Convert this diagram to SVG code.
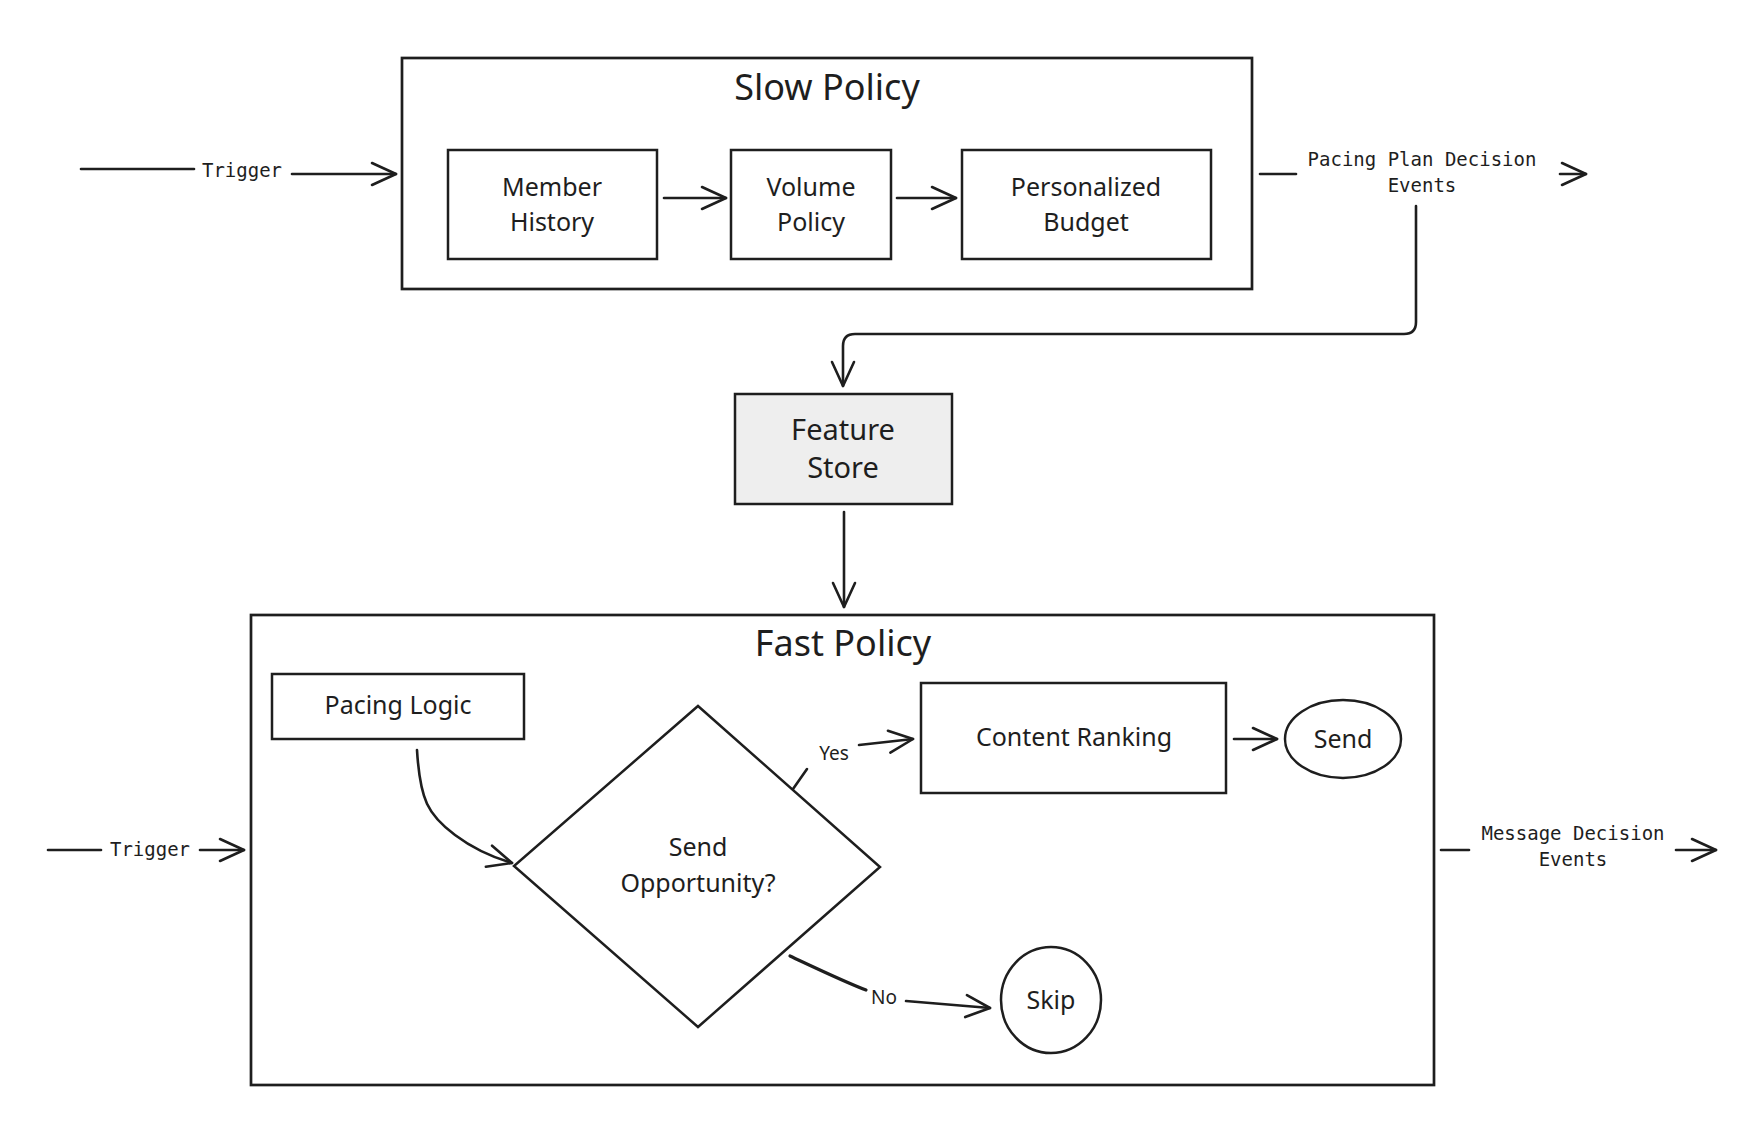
<svg xmlns="http://www.w3.org/2000/svg" width="1764" height="1148" viewBox="0 0 1764 1148">
<style>
.box{fill:#ffffff;stroke:#1e1e1e;stroke-width:2.5}
.grey{fill:#eeeeee;stroke:#1e1e1e;stroke-width:2.5}
.frame{fill:none;stroke:#1e1e1e;stroke-width:2.7}
.c{fill:none;stroke:#1e1e1e;stroke-width:2.6;stroke-linecap:round;stroke-linejoin:round}
.hand{font-family:"Noto Sans","Open Sans",sans-serif;fill:#1e1e1e;text-anchor:middle}
.t{font-size:25px}
.title{font-size:36px}
.mono{font-family:"DejaVu Sans Mono","Liberation Mono",monospace;font-size:19px;fill:#1e1e1e;text-anchor:middle}
.lbl{font-family:"Noto Sans",sans-serif;font-size:19px;fill:#1e1e1e;text-anchor:middle}
</style>
<defs>
<marker id="ah" viewBox="0 0 28 28" refX="26" refY="14" markerWidth="28" markerHeight="28" markerUnits="userSpaceOnUse" orient="auto">
<path d="M2,3 L26,14 L2,25" fill="none" stroke="#1e1e1e" stroke-width="2.6" stroke-linecap="round" stroke-linejoin="round"/>
</marker>
</defs>
<rect width="1764" height="1148" fill="#ffffff"/>

<g id="slow-policy">
<rect class="frame" x="402" y="58" width="850" height="231"/>
<text class="hand title" x="827" y="100">Slow Policy</text>
</g>
<g id="member-history">
<rect class="box" x="448" y="150" width="209" height="109"/>
<text class="hand t" x="552" y="196">Member</text>
<text class="hand t" x="552" y="231">History</text>
</g>
<g id="volume-policy">
<rect class="box" x="731" y="150" width="160" height="109"/>
<text class="hand t" x="811" y="196">Volume</text>
<text class="hand t" x="811" y="231">Policy</text>
</g>
<g id="personalized-budget">
<rect class="box" x="962" y="150" width="249" height="109"/>
<text class="hand t" x="1086" y="196">Personalized</text>
<text class="hand t" x="1086" y="231">Budget</text>
</g>
<g id="feature-store">
<rect class="grey" x="735" y="394" width="217" height="110"/>
<text class="hand" style="font-size:29px" x="843" y="440">Feature</text>
<text class="hand" style="font-size:29px" x="843" y="478">Store</text>
</g>
<g id="fast-policy">
<rect class="frame" x="251" y="615" width="1183" height="470"/>
<text class="hand title" x="843" y="656">Fast Policy</text>
</g>
<g id="pacing-logic">
<rect class="box" x="272" y="674" width="252" height="65"/>
<text class="hand t" x="398" y="714">Pacing Logic</text>
</g>
<g id="send-opportunity">
<polygon class="box" points="698,706 880,867 698,1027 514,866"/>
<text class="hand t" x="698" y="856">Send</text>
<text class="hand t" x="698" y="892">Opportunity?</text>
</g>
<g id="content-ranking">
<rect class="box" x="921" y="683" width="305" height="110"/>
<text class="hand t" x="1074" y="746">Content Ranking</text>
</g>
<g id="send">
<ellipse class="box" cx="1343" cy="739" rx="58" ry="39"/>
<text class="hand t" x="1343" y="748">Send</text>
</g>
<g id="skip">
<ellipse class="box" cx="1051" cy="1000" rx="50" ry="53"/>
<text class="hand t" x="1051" y="1009">Skip</text>
</g>

<g id="connectors">
<line class="c" x1="81" y1="169" x2="194" y2="169"/>
<text class="mono" x="242" y="177">Trigger</text>
<line class="c" x1="292" y1="174" x2="396" y2="174" marker-end="url(#ah)"/>
<line class="c" x1="664" y1="198" x2="726" y2="198" marker-end="url(#ah)"/>
<line class="c" x1="897" y1="198" x2="956" y2="198" marker-end="url(#ah)"/>
<line class="c" x1="1260" y1="174" x2="1296" y2="174"/>
<text class="mono" x="1422" y="166">Pacing Plan Decision</text>
<text class="mono" x="1422" y="192">Events</text>
<line class="c" x1="1560" y1="174" x2="1586" y2="174" marker-end="url(#ah)"/>
<path class="c" d="M1416,206 L1416,322 Q1416,334 1404,334 L855,334 Q843,334 843,346 L843,386" marker-end="url(#ah)"/>
<line class="c" x1="844" y1="512" x2="844" y2="607" marker-end="url(#ah)"/>
<line class="c" x1="48" y1="850" x2="101" y2="850"/>
<text class="mono" x="150" y="856">Trigger</text>
<line class="c" x1="200" y1="850" x2="244" y2="850" marker-end="url(#ah)"/>
<path class="c" d="M417,750 C420,800 428,815 455,835 C475,850 495,858 512,863" marker-end="url(#ah)"/>
<line class="c" x1="793" y1="789" x2="807" y2="769"/>
<text class="lbl" x="834" y="760">Yes</text>
<line class="c" x1="859" y1="745" x2="913" y2="739" marker-end="url(#ah)"/>
<line class="c" x1="1234" y1="739" x2="1277" y2="739" marker-end="url(#ah)"/>
<path class="c" style="stroke-width:3.2" d="M790,956 C820,970 845,982 866,990"/>
<text class="lbl" x="884" y="1004">No</text>
<path class="c" d="M906,1001 C940,1004 965,1006 990,1008" marker-end="url(#ah)"/>
<line class="c" x1="1441" y1="850" x2="1469" y2="850"/>
<text class="mono" x="1573" y="840">Message Decision</text>
<text class="mono" x="1573" y="866">Events</text>
<line class="c" x1="1676" y1="850" x2="1716" y2="850" marker-end="url(#ah)"/>
</g>
</svg>
